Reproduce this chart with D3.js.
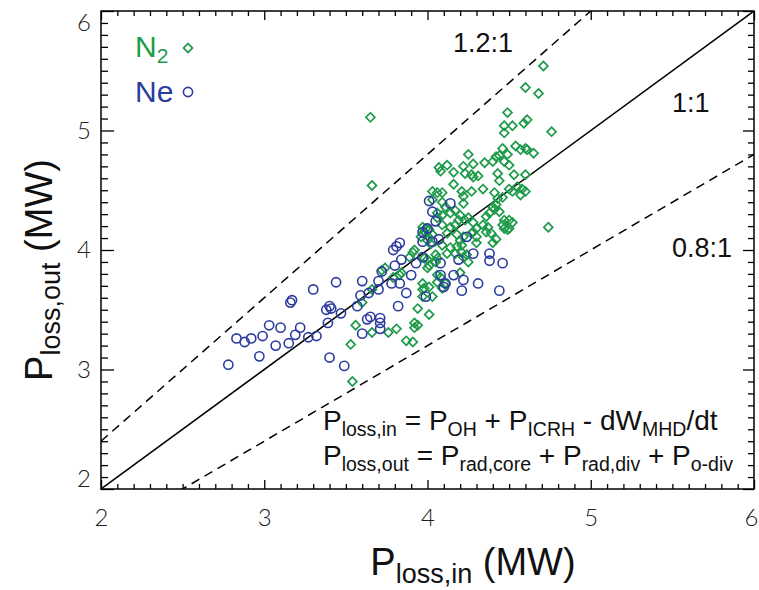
<!DOCTYPE html>
<html>
<head>
<meta charset="utf-8">
<script src="https://cdn.jsdelivr.net/npm/d3@7"></script>
<style>
  body { margin: 0; background: #fff; }
  svg { display: block; }
  .tick text { font-family: Lato, "Open Sans", sans-serif; font-weight: 300; fill: #222; }
</style>
</head>
<body>
<div id="chart"></div>
<script>
// P_loss,in / P_loss,out (MW) for N2 seeded shots
const n2In = [4.71, 4.60, 4.68, 4.49, 3.65, 3.66, 4.47, 4.52, 4.47, 4.59, 4.61, 4.76, 4.46, 4.54, 4.57, 4.60,
  4.61, 4.65, 4.25, 4.42, 4.44, 4.49, 4.07, 4.08, 4.12, 4.16, 4.22, 4.28, 4.35, 4.40, 4.47, 4.50,
  4.23, 4.27, 4.28, 4.31, 4.43, 4.44, 4.53, 4.60, 4.16, 4.27, 4.34, 4.41, 4.50, 4.52, 4.55, 4.58,
  4.60, 4.57, 4.03, 4.06, 4.09, 4.21, 4.22, 4.43, 4.46, 4.03, 4.09, 4.11, 4.22, 4.17, 4.14, 4.20,
  4.23, 4.40, 4.42, 4.41, 4.44, 4.38, 4.50, 4.52, 4.47, 4.46, 4.49, 4.50, 4.47, 4.36, 4.34, 4.37,
  4.42, 4.40, 4.39, 4.36, 4.25, 4.28, 4.27, 4.30, 4.74, 3.97, 3.98, 4.00, 4.01, 4.03, 4.00, 4.02,
  3.96, 3.99, 4.09, 4.14, 4.12, 4.17, 4.19, 4.06, 4.06, 4.09, 4.18, 4.20, 4.22, 4.21, 4.28, 4.30,
  4.30, 4.09, 4.14, 4.12, 4.18, 4.21, 4.17, 3.92, 3.89, 3.91, 4.05, 4.06, 3.98, 4.00, 4.01, 4.00,
  4.05, 4.24, 4.22, 4.25, 4.20, 4.06, 4.08, 4.06, 4.11, 4.09, 4.03, 3.97, 3.97, 3.97, 4.01, 3.98,
  3.94, 4.01, 3.92, 3.94, 3.92, 3.87, 3.91, 3.81, 3.76, 3.66, 3.83, 3.84, 3.79, 3.72, 3.66, 3.60,
  3.56, 3.53, 3.54, 3.74];
const n2Out = [5.54, 5.36, 5.31, 5.15, 5.11, 4.54, 5.04, 5.04, 4.98, 5.06, 5.09, 4.99, 4.85, 4.87, 4.84, 4.85,
  4.84, 4.81, 4.80, 4.78, 4.79, 4.80, 4.69, 4.66, 4.71, 4.65, 4.70, 4.72, 4.73, 4.74, 4.74, 4.71,
  4.64, 4.63, 4.61, 4.62, 4.64, 4.58, 4.63, 4.63, 4.55, 4.49, 4.51, 4.48, 4.51, 4.49, 4.53, 4.51,
  4.49, 4.46, 4.49, 4.48, 4.48, 4.49, 4.45, 4.43, 4.44, 4.42, 4.40, 4.36, 4.39, 4.33, 4.31, 4.29,
  4.25, 4.36, 4.38, 4.34, 4.32, 4.31, 4.25, 4.23, 4.25, 4.21, 4.17, 4.18, 4.18, 4.28, 4.21, 4.19,
  4.09, 4.06, 4.14, 4.15, 4.27, 4.23, 4.14, 4.18, 4.19, 4.19, 4.15, 4.12, 4.17, 4.13, 4.08, 4.05,
  4.11, 4.18, 4.21, 4.19, 4.14, 4.21, 4.25, 4.31, 4.27, 4.29, 4.13, 4.08, 4.11, 4.04, 4.15, 4.11,
  4.06, 4.04, 4.02, 3.97, 4.03, 3.98, 3.97, 4.00, 3.94, 3.98, 3.96, 3.93, 3.93, 3.92, 3.87, 3.85,
  3.90, 3.96, 3.94, 3.90, 3.81, 3.79, 3.77, 3.73, 3.72, 3.68, 3.61, 3.72, 3.67, 3.61, 3.69, 3.68,
  3.51, 3.46, 3.39, 3.37, 3.35, 3.24, 3.23, 3.34, 3.31, 3.31, 3.79, 3.81, 3.77, 3.83, 3.67, 3.56,
  3.37, 3.21, 2.90, 3.85];

// same for Ne seeded shots
const neIn = [2.78, 2.83, 2.88, 2.92, 2.97, 2.99, 3.03, 3.07, 3.10, 3.15, 3.16, 3.17, 3.19, 3.22, 3.27, 3.30,
  3.32, 3.39, 3.38, 3.40, 3.41, 3.44, 3.47, 3.40, 3.49, 3.57, 3.59, 3.60, 3.64, 3.70, 3.70, 3.72,
  3.78, 3.80, 3.83, 3.84, 3.87, 3.90, 3.82, 3.60, 3.63, 3.65, 3.71, 3.71, 3.71, 3.79, 3.81, 3.83,
  3.93, 3.97, 4.00, 4.03, 4.05, 4.07, 3.99, 4.08, 4.08, 4.11, 4.16, 4.19, 4.22, 4.21, 4.28, 4.31,
  4.38, 4.38, 4.46, 4.44, 4.14, 4.01, 3.97, 4.10, 3.97, 4.03, 4.24];
const neOut = [3.04, 3.26, 3.23, 3.26, 3.11, 3.28, 3.37, 3.20, 3.35, 3.22, 3.56, 3.58, 3.29, 3.35, 3.27, 3.67,
  3.28, 3.39, 3.50, 3.53, 3.51, 3.73, 3.47, 3.10, 3.03, 3.53, 3.62, 3.74, 3.64, 3.74, 3.67, 3.82,
  3.72, 3.87, 3.72, 3.92, 3.64, 3.79, 3.53, 3.30, 3.42, 3.44, 3.43, 3.39, 3.34, 4.00, 4.03, 4.06,
  3.89, 4.07, 4.18, 4.32, 4.24, 4.09, 3.61, 3.89, 3.79, 3.72, 3.79, 3.92, 3.75, 3.66, 3.97, 3.72,
  3.97, 3.91, 3.89, 3.66, 4.39, 4.41, 3.94, 3.69, 4.15, 4.07, 4.11];

const ratios = [1.2, 1, 0.8];
const ratioLabels = ['1.2:1', '1:1', '0.8:1'];
const majorTicks = [2, 3, 4, 5, 6];

const green = '#1e9a4a';
const blue = '#2c3c9e';
const titleFont = '"Liberation Sans", Arial, sans-serif';

const width = 759;
const height = 590;

const svg = d3.select('#chart')
  .append('svg')
  .attr('width', width)
  .attr('height', height);

const x = d3.scaleLinear().domain([2, 6]).range([101, 754]);
const y = d3.scaleLinear().domain([2, 6]).range([489, 11]);

const minorTicks = d3.range(20, 61).map(d => d / 10).filter(d => !majorTicks.includes(d));

// write text with subscripts, parts = [[str, isSub], ...]
function richText(sel, parts, size, subSize, shift) {
  let down = false;
  parts.forEach(([str, sub]) => {
    const t = sel.append('tspan').text(str);
    if (sub) {
      t.attr('font-size', subSize);
      if (!down) t.attr('dy', shift);
      down = true;
    } else {
      t.attr('font-size', size);
      if (down) t.attr('dy', -shift);
      down = false;
    }
  });
  return sel;
}

// axes: labelled bottom/left, ticks only top/right
function addAxis(axisFn, translate, majorLen, minorLen, labels) {
  const major = axisFn.tickValues(majorTicks).tickSize(-majorLen)
    .tickFormat(labels ? d3.format('d') : '');
  const g = svg.append('g').attr('transform', translate).call(major);
  g.select('.domain').remove();
  g.selectAll('.tick line').attr('stroke', '#000').attr('stroke-width', 1.3);
  g.selectAll('.tick text').attr('font-size', 24);

  const minor = axisFn.tickValues(minorTicks).tickSize(-minorLen).tickFormat('');
  const gm = svg.append('g').attr('transform', translate).call(minor);
  gm.select('.domain').remove();
  gm.selectAll('.tick line').attr('stroke', '#000').attr('stroke-width', 1.3);
  return g;
}

const bottom = addAxis(d3.axisBottom(x).tickPadding(20), 'translate(0,489)', 9, 5, true);
const left = addAxis(d3.axisLeft(y).tickPadding(10), 'translate(101,0)', 13, 7, true);
addAxis(d3.axisTop(x), 'translate(0,11)', 9, 5, false);
addAxis(d3.axisRight(y), 'translate(754,0)', 11, 6, false);

// end labels sit inside the frame a little
left.selectAll('.tick text')
  .attr('dy', d => (d === 6 ? '0.8em' : d === 2 ? '-0.1em' : '0.32em'));
bottom.selectAll('.tick text')
  .attr('dx', d => (d === 6 ? -3 : 0));

svg.append('rect')
  .attr('x', x(2))
  .attr('y', y(6))
  .attr('width', x(6) - x(2))
  .attr('height', y(2) - y(6))
  .attr('fill', 'none')
  .attr('stroke', '#000')
  .attr('stroke-width', 1.5);

// ratio lines clipped to the box
svg.append('clipPath').attr('id', 'box')
  .append('rect')
  .attr('x', x(2)).attr('y', y(6))
  .attr('width', x(6) - x(2)).attr('height', y(2) - y(6));

const ratioLine = d3.line().x(d => x(d[0])).y(d => y(d[1]));
svg.append('g')
  .attr('clip-path', 'url(#box)')
  .selectAll('path')
  .data(ratios)
  .enter()
  .append('path')
  .attr('d', r => ratioLine([[2, 2 * r], [6, 6 * r]]))
  .attr('fill', 'none')
  .attr('stroke', '#000')
  .attr('stroke-width', 1.5)
  .attr('stroke-dasharray', r => (r === 1 ? null : '9,6'));

// ratio labels
const ratioPos = [[453, 52], [672, 112], [672, 257]];
svg.selectAll('.ratio-label')
  .data(ratioLabels)
  .enter()
  .append('text')
  .attr('class', 'ratio-label')
  .attr('x', (d, i) => ratioPos[i][0])
  .attr('y', (d, i) => ratioPos[i][1])
  .attr('font-family', titleFont)
  .attr('font-size', 27)
  .attr('fill', '#111')
  .text(d => d);

// points
const diamond = d3.symbol().type(d3.symbolSquare).size(40);
svg.append('g')
  .selectAll('path')
  .data(n2In.map((d, i) => [d, n2Out[i]]))
  .enter()
  .append('path')
  .attr('d', diamond)
  .attr('transform', d => `translate(${x(d[0])},${y(d[1])}) rotate(45)`)
  .attr('fill', 'none')
  .attr('stroke', green)
  .attr('stroke-width', 1.7);

svg.append('g')
  .selectAll('circle')
  .data(neIn.map((d, i) => [d, neOut[i]]))
  .enter()
  .append('circle')
  .attr('cx', d => x(d[0]))
  .attr('cy', d => y(d[1]))
  .attr('r', 4.6)
  .attr('fill', 'none')
  .attr('stroke', blue)
  .attr('stroke-width', 1.6);

// legend
const leg = svg.append('g').attr('font-family', titleFont);
richText(leg.append('text').attr('x', 135).attr('y', 57).attr('fill', green),
  [['N'], ['2', true]], 30, 21, 6);
leg.append('path')
  .attr('d', diamond)
  .attr('transform', 'translate(188,48) rotate(45)')
  .attr('fill', 'none')
  .attr('stroke', green)
  .attr('stroke-width', 1.7);
leg.append('text').attr('x', 135).attr('y', 102).attr('fill', blue)
  .attr('font-size', 30).text('Ne');
leg.append('circle')
  .attr('cx', 188).attr('cy', 92).attr('r', 4.6)
  .attr('fill', 'none')
  .attr('stroke', blue)
  .attr('stroke-width', 1.6);

// power balance definitions
const eq1 = [['P'], ['loss,in', true], [' = P'], ['OH', true], [' + P'], ['ICRH', true],
  [' - dW'], ['MHD', true], ['/dt']];
const eq2 = [['P'], ['loss,out', true], [' = P'], ['rad,core', true], [' + P'], ['rad,div', true],
  [' + P'], ['o-div', true]];
richText(svg.append('text').attr('x', 323).attr('y', 430)
  .attr('font-family', titleFont).attr('fill', '#111'), eq1, 28, 19.5, 6);
richText(svg.append('text').attr('x', 323).attr('y', 465)
  .attr('font-family', titleFont).attr('fill', '#111'), eq2, 28, 19.5, 6);

// axis titles
richText(svg.append('text')
  .attr('x', 473).attr('y', 575)
  .attr('text-anchor', 'middle')
  .attr('font-family', titleFont)
  .attr('fill', '#111'), [['P'], ['loss,in', true], [' (MW)']], 38, 27, 8);

richText(svg.append('text')
  .attr('transform', 'translate(52,270) rotate(-90)')
  .attr('text-anchor', 'middle')
  .attr('font-family', titleFont)
  .attr('fill', '#111'), [['P'], ['loss,out', true], [' (MW)']], 38, 27, 8);
</script>
</body>
</html>
